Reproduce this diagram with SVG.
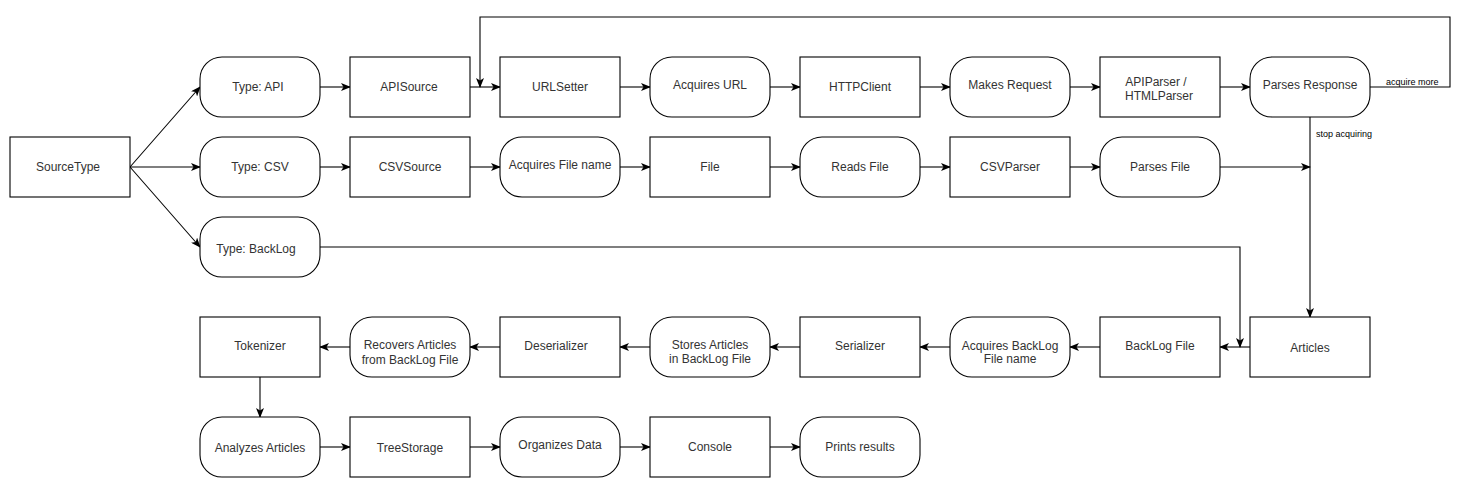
<svg xmlns="http://www.w3.org/2000/svg" width="1470" height="488" viewBox="0 0 1470 488">
<defs>
<style>
.n{fill:#fff;stroke:#000;stroke-width:1.1}
.t{font-family:"Liberation Sans",Arial,sans-serif;font-size:12px;fill:#333;text-anchor:middle}
.s{font-family:"Liberation Sans",Arial,sans-serif;font-size:9px;fill:#000}
.c{fill:none;stroke:#000;stroke-width:1.1}
</style>
<marker id="a" viewBox="0 0 10 8" refX="9" refY="4" markerWidth="10" markerHeight="8" markerUnits="userSpaceOnUse" orient="auto">
<path d="M0,0 L10,4 L0,8 L2.5,4 z" fill="#000"/>
</marker>
</defs>
<rect width="1470" height="488" fill="#fff"/>
<g id="connectors">
<path class="c" d="M130,167 L200,87" marker-end="url(#a)"/>
<path class="c" d="M130,167 L200,167" marker-end="url(#a)"/>
<path class="c" d="M130,167 L200,247" marker-end="url(#a)"/>
<path class="c" d="M320,87 L350,87" marker-end="url(#a)"/>
<path class="c" d="M470,87 L500,87" marker-end="url(#a)"/>
<path class="c" d="M620,87 L650,87" marker-end="url(#a)"/>
<path class="c" d="M770,87 L800,87" marker-end="url(#a)"/>
<path class="c" d="M920,87 L950,87" marker-end="url(#a)"/>
<path class="c" d="M1070,87 L1100,87" marker-end="url(#a)"/>
<path class="c" d="M1220,87 L1250,87" marker-end="url(#a)"/>
<path class="c" d="M1370,87 L1450,87 L1450,17 L480,17 L480,87" marker-end="url(#a)"/>
<text class="s" x="1386" y="85">acquire more</text>
<path class="c" d="M320,167 L350,167" marker-end="url(#a)"/>
<path class="c" d="M470,167 L500,167" marker-end="url(#a)"/>
<path class="c" d="M620,167 L650,167" marker-end="url(#a)"/>
<path class="c" d="M770,167 L800,167" marker-end="url(#a)"/>
<path class="c" d="M920,167 L950,167" marker-end="url(#a)"/>
<path class="c" d="M1070,167 L1100,167" marker-end="url(#a)"/>
<path class="c" d="M1220,167 L1310,167" marker-end="url(#a)"/>
<path class="c" d="M1310,117 L1310,317" marker-end="url(#a)"/>
<text class="s" x="1316" y="137">stop acquiring</text>
<path class="c" d="M320,247 L1240,247 L1240,347" marker-end="url(#a)"/>
<path class="c" d="M1250,347 L1220,347" marker-end="url(#a)"/>
<path class="c" d="M1100,347 L1070,347" marker-end="url(#a)"/>
<path class="c" d="M950,347 L920,347" marker-end="url(#a)"/>
<path class="c" d="M800,347 L770,347" marker-end="url(#a)"/>
<path class="c" d="M650,347 L620,347" marker-end="url(#a)"/>
<path class="c" d="M500,347 L470,347" marker-end="url(#a)"/>
<path class="c" d="M350,347 L320,347" marker-end="url(#a)"/>
<path class="c" d="M260,377 L260,417" marker-end="url(#a)"/>
<path class="c" d="M320,447 L350,447" marker-end="url(#a)"/>
<path class="c" d="M470,447 L500,447" marker-end="url(#a)"/>
<path class="c" d="M620,447 L650,447" marker-end="url(#a)"/>
<path class="c" d="M770,447 L800,447" marker-end="url(#a)"/>
</g>
<g id="sourcetype"><rect class="n" x="10" y="137" width="120" height="60"/><text class="t" x="68" y="171">SourceType</text></g>
<g id="type-api"><rect class="n" x="200" y="57" width="120" height="60" rx="22"/><text class="t" x="258" y="91">Type: API</text></g>
<g id="apisource"><rect class="n" x="350" y="57" width="120" height="60"/><text class="t" x="409" y="91">APISource</text></g>
<g id="urlsetter"><rect class="n" x="500" y="57" width="120" height="60"/><text class="t" x="560" y="91">URLSetter</text></g>
<g id="acquires-url"><rect class="n" x="650" y="57" width="120" height="60" rx="22"/><text class="t" x="710" y="89">Acquires URL</text></g>
<g id="httpclient"><rect class="n" x="800" y="57" width="120" height="60"/><text class="t" x="860" y="91">HTTPClient</text></g>
<g id="makes-request"><rect class="n" x="950" y="57" width="120" height="60" rx="22"/><text class="t" x="1010" y="89">Makes Request</text></g>
<g id="apiparser"><rect class="n" x="1100" y="57" width="120" height="60"/><text class="t" x="1160" y="86"><tspan x="1156">APIParser /</tspan><tspan x="1159" dy="13.5">HTMLParser</tspan></text></g>
<g id="parses-response"><rect class="n" x="1250" y="57" width="120" height="60" rx="22"/><text class="t" x="1310" y="89">Parses Response</text></g>
<g id="type-csv"><rect class="n" x="200" y="137" width="120" height="60" rx="22"/><text class="t" x="260" y="171">Type: CSV</text></g>
<g id="csvsource"><rect class="n" x="350" y="137" width="120" height="60"/><text class="t" x="410" y="171">CSVSource</text></g>
<g id="acquires-file-name"><rect class="n" x="500" y="137" width="120" height="60" rx="22"/><text class="t" x="560" y="169">Acquires File name</text></g>
<g id="file"><rect class="n" x="650" y="137" width="120" height="60"/><text class="t" x="710" y="171">File</text></g>
<g id="reads-file"><rect class="n" x="800" y="137" width="120" height="60" rx="22"/><text class="t" x="860" y="171">Reads File</text></g>
<g id="csvparser"><rect class="n" x="950" y="137" width="120" height="60"/><text class="t" x="1010" y="171">CSVParser</text></g>
<g id="parses-file"><rect class="n" x="1100" y="137" width="120" height="60" rx="22"/><text class="t" x="1160" y="171">Parses File</text></g>
<g id="type-backlog"><rect class="n" x="200" y="217" width="120" height="60" rx="22"/><text class="t" x="256" y="253">Type: BackLog</text></g>
<g id="articles"><rect class="n" x="1250" y="317" width="120" height="60"/><text class="t" x="1310" y="352">Articles</text></g>
<g id="backlog-file"><rect class="n" x="1100" y="317" width="120" height="60"/><text class="t" x="1160" y="350">BackLog File</text></g>
<g id="acquires-backlog"><rect class="n" x="950" y="317" width="120" height="60" rx="22"/><text class="t" x="1010" y="350"><tspan x="1010">Acquires BackLog</tspan><tspan x="1010" dy="12.5">File name</tspan></text></g>
<g id="serializer"><rect class="n" x="800" y="317" width="120" height="60"/><text class="t" x="860" y="350">Serializer</text></g>
<g id="stores-articles"><rect class="n" x="650" y="317" width="120" height="60" rx="22"/><text class="t" x="710" y="349"><tspan x="710">Stores Articles</tspan><tspan x="710" dy="14">in BackLog File</tspan></text></g>
<g id="deserializer"><rect class="n" x="500" y="317" width="120" height="60"/><text class="t" x="556" y="350">Deserializer</text></g>
<g id="recovers-articles"><rect class="n" x="350" y="317" width="120" height="60" rx="22"/><text class="t" x="410" y="349"><tspan x="410">Recovers Articles</tspan><tspan x="410" dy="14.5">from BackLog File</tspan></text></g>
<g id="tokenizer"><rect class="n" x="200" y="317" width="120" height="60"/><text class="t" x="260" y="350">Tokenizer</text></g>
<g id="analyzes-articles"><rect class="n" x="200" y="417" width="120" height="60" rx="22"/><text class="t" x="260" y="452">Analyzes Articles</text></g>
<g id="treestorage"><rect class="n" x="350" y="417" width="120" height="60"/><text class="t" x="410" y="452">TreeStorage</text></g>
<g id="organizes-data"><rect class="n" x="500" y="417" width="120" height="60" rx="22"/><text class="t" x="560" y="449">Organizes Data</text></g>
<g id="console"><rect class="n" x="650" y="417" width="120" height="60"/><text class="t" x="710" y="451">Console</text></g>
<g id="prints-results"><rect class="n" x="800" y="417" width="120" height="60" rx="22"/><text class="t" x="860" y="451">Prints results</text></g>
</svg>
